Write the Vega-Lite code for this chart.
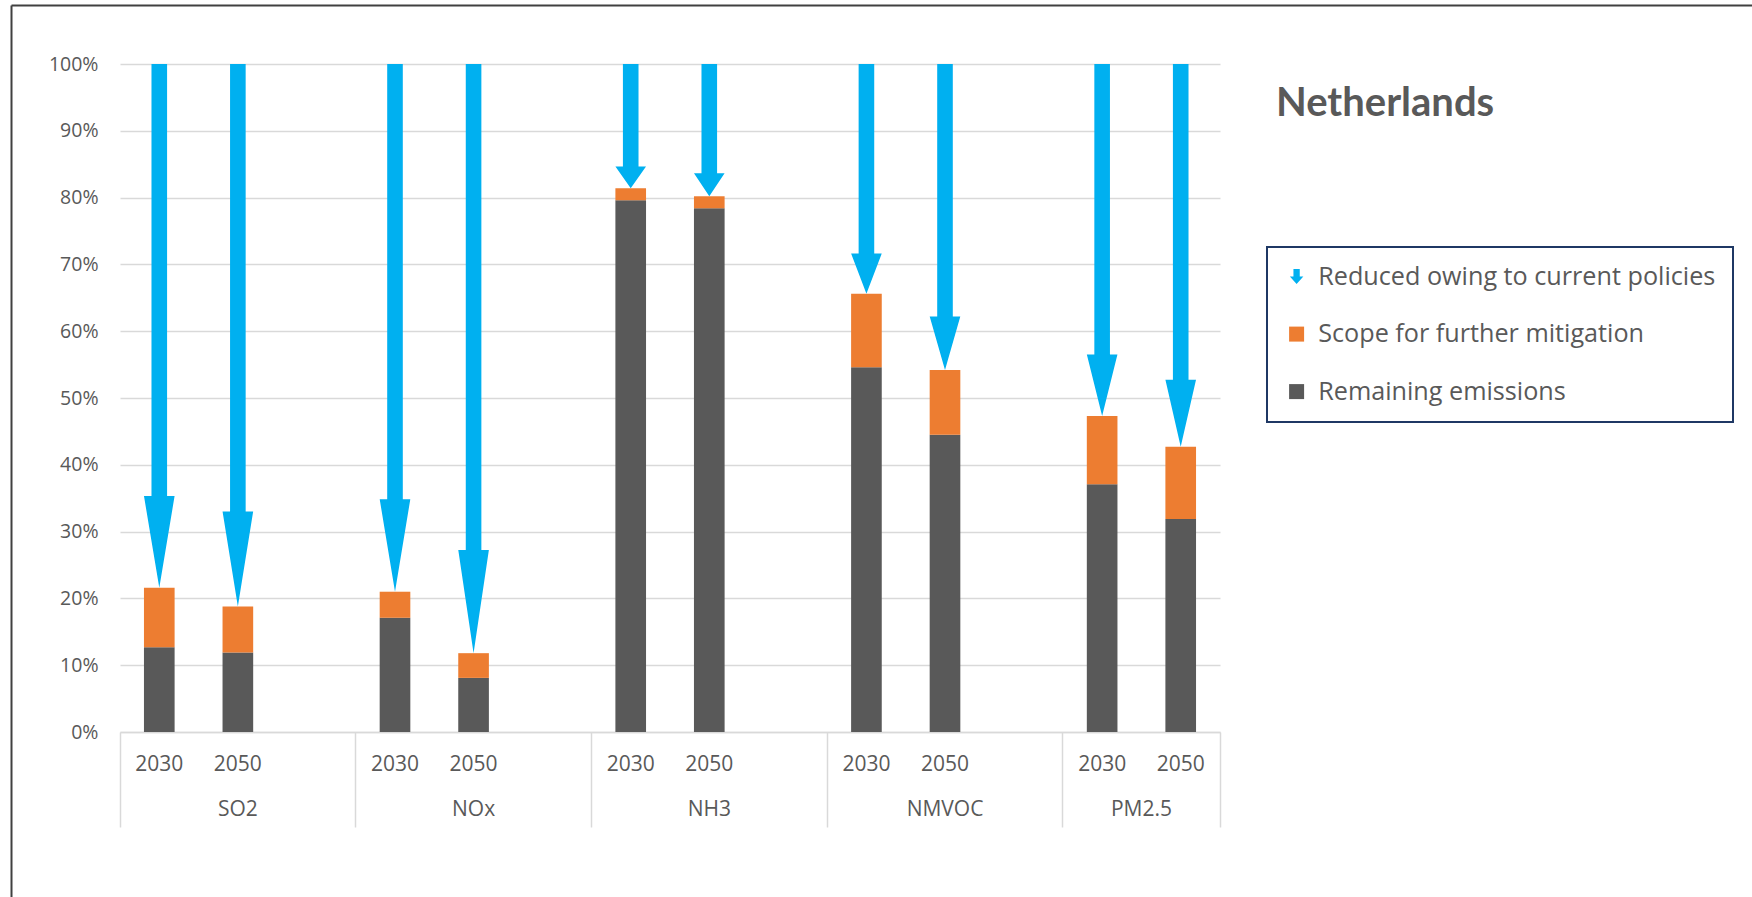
{
  "$schema": "https://vega.github.io/schema/vega-lite/v6.json",
  "width": 1100,
  "height": 668,
  "autosize": {"type": "none"},
  "padding": {"left": 120, "top": 64, "right": 532, "bottom": 165},
  "background": "white",
  "config": {
    "view": {"stroke": null},
    "axis": {"labelFont": "Open Sans", "labelColor": "#595959"}
  },
  "title": {
    "text": "Netherlands",
    "anchor": "start",
    "frame": "group",
    "dx": 1156,
    "dy": 150.5,
    "offset": 0,
    "font": "Lato",
    "fontSize": 40,
    "fontWeight": "bold",
    "color": "#595959",
    "baseline": "alphabetic"
  },
  "data": {
    "values": [
      {"cat": "SO2 2030", "series": "Remaining emissions", "value": 12.7},
      {"cat": "SO2 2030", "series": "Scope for further mitigation", "value": 8.9},
      {"cat": "SO2 2030", "series": "Reduced owing to current policies", "value": 78.4},
      {"cat": "SO2 2050", "series": "Remaining emissions", "value": 11.9},
      {"cat": "SO2 2050", "series": "Scope for further mitigation", "value": 6.9},
      {"cat": "SO2 2050", "series": "Reduced owing to current policies", "value": 81.2},
      {"cat": "NOx 2030", "series": "Remaining emissions", "value": 17.1},
      {"cat": "NOx 2030", "series": "Scope for further mitigation", "value": 3.9},
      {"cat": "NOx 2030", "series": "Reduced owing to current policies", "value": 79.0},
      {"cat": "NOx 2050", "series": "Remaining emissions", "value": 8.1},
      {"cat": "NOx 2050", "series": "Scope for further mitigation", "value": 3.7},
      {"cat": "NOx 2050", "series": "Reduced owing to current policies", "value": 88.2},
      {"cat": "NH3 2030", "series": "Remaining emissions", "value": 79.6},
      {"cat": "NH3 2030", "series": "Scope for further mitigation", "value": 1.8},
      {"cat": "NH3 2030", "series": "Reduced owing to current policies", "value": 18.6},
      {"cat": "NH3 2050", "series": "Remaining emissions", "value": 78.4},
      {"cat": "NH3 2050", "series": "Scope for further mitigation", "value": 1.8},
      {"cat": "NH3 2050", "series": "Reduced owing to current policies", "value": 19.8},
      {"cat": "NMVOC 2030", "series": "Remaining emissions", "value": 54.6},
      {"cat": "NMVOC 2030", "series": "Scope for further mitigation", "value": 11.0},
      {"cat": "NMVOC 2030", "series": "Reduced owing to current policies", "value": 34.4},
      {"cat": "NMVOC 2050", "series": "Remaining emissions", "value": 44.5},
      {"cat": "NMVOC 2050", "series": "Scope for further mitigation", "value": 9.7},
      {"cat": "NMVOC 2050", "series": "Reduced owing to current policies", "value": 45.8},
      {"cat": "PM2.5 2030", "series": "Remaining emissions", "value": 37.1},
      {"cat": "PM2.5 2030", "series": "Scope for further mitigation", "value": 10.2},
      {"cat": "PM2.5 2030", "series": "Reduced owing to current policies", "value": 52.7},
      {"cat": "PM2.5 2050", "series": "Remaining emissions", "value": 31.9},
      {"cat": "PM2.5 2050", "series": "Scope for further mitigation", "value": 10.8},
      {"cat": "PM2.5 2050", "series": "Reduced owing to current policies", "value": 57.3}
    ]
  },
  "layer": [
    {
      "mark": {"type": "point", "opacity": 0, "size": 0},
      "encoding": {
        "x": {
          "field": "value", "type": "quantitative",
          "scale": {"domain": [0, 100], "range": [-109, 1660], "nice": false, "zero": false},
          "axis": {"orient": "top", "offset": 59, "domain": true, "domainColor": "#404040", "domainWidth": 2,
                   "labels": false, "ticks": false, "grid": false, "title": null}
        },
        "y": {
          "field": "value", "type": "quantitative",
          "scale": {"domain": [0, 100], "range": [850, -59], "nice": false, "zero": false},
          "axis": {"orient": "left", "offset": 109, "domain": true, "domainColor": "#404040", "domainWidth": 2,
                   "labels": false, "ticks": false, "grid": false, "title": null}
        }
      }
    },
    {
      "transform": [{"filter": "datum.series === 'Remaining emissions'"}],
      "mark": {"type": "bar", "width": {"band": 0.39}},
      "encoding": {
        "x": {
          "field": "cat", "type": "nominal",
          "scale": {"type": "band", "paddingInner": 0, "paddingOuter": 0,
            "domain": ["SO2 2030", "SO2 2050", "SO2 -", "NOx 2030", "NOx 2050", "NOx -", "NH3 2030", "NH3 2050", "NH3 -", "NMVOC 2030", "NMVOC 2050", "NMVOC -", "PM2.5 2030", "PM2.5 2050"]},
          "axis": {
            "orient": "bottom",
            "values": ["SO2 2030", "SO2 2050", "NOx 2030", "NOx 2050", "NH3 2030", "NH3 2050", "NMVOC 2030", "NMVOC 2050", "PM2.5 2030", "PM2.5 2050"],
            "labelExpr": "split(datum.value, ' ')[1]",
            "title": null, "ticks": false, "domain": true, "domainColor": "#D9D9D9", "domainWidth": 1.5,
            "labelFontSize": 21, "labelPadding": 32, "labelBaseline": "middle", "labelAngle": 0,
            "labelOverlap": false, "grid": false
          }
        },
        "y": {
          "field": "value", "type": "quantitative", "stack": null,
          "scale": {"domain": [0, 100], "nice": false, "zero": true},
          "axis": {
            "orient": "left",
            "values": [0, 10, 20, 30, 40, 50, 60, 70, 80, 90, 100],
            "labelExpr": "datum.value + '%'",
            "title": null, "grid": true, "gridColor": "#D9D9D9", "gridWidth": 1.5,
            "domain": false, "ticks": false, "labelFontSize": 19.5, "labelPadding": 22
          }
        },
        "color": {
          "field": "series", "type": "nominal",
          "scale": {
            "domain": ["Reduced owing to current policies", "Scope for further mitigation", "Remaining emissions"],
            "range": ["#00B0F0", "#ED7D31", "#595959"]
          },
          "legend": {
            "orient": "none", "legendX": 1147, "legendY": 183, "title": null, "direction": "vertical",
            "symbolType": "square", "symbolSize": 225, "symbolStrokeWidth": 0,
            "labelFont": "Open Sans", "labelFontSize": 25.2, "labelColor": "#595959", "labelOffset": 9,
            "labelLimit": 800, "rowPadding": 31.5, "padding": 17,
            "strokeColor": "#1F3864",
            "encode": {
              "legend": {"update": {"strokeWidth": {"value": 2}}},
              "symbols": {
                "update": {
                  "shape": {"signal": "datum.value === 'Reduced owing to current policies' ? 'M-0.42,-1L0.42,-1L0.42,0L0.9,0L0,1L-0.9,0L-0.42,0Z' : 'square'"}
                }
              }
            }
          }
        }
      }
    },
    {
      "transform": [
        {"filter": "datum.series !== 'Reduced owing to current policies'"},
        {"stack": "value", "groupby": ["cat"], "sort": [{"field": "series", "order": "ascending"}], "as": ["v0", "v1"]},
        {"filter": "datum.series === 'Scope for further mitigation'"}
      ],
      "mark": {"type": "bar", "width": {"band": 0.39}, "color": "#ED7D31"},
      "encoding": {
        "x": {
          "field": "cat", "type": "nominal",
          "scale": {"type": "band", "paddingInner": 0, "paddingOuter": 0,
            "domain": ["SO2 2030", "SO2 2050", "SO2 -", "NOx 2030", "NOx 2050", "NOx -", "NH3 2030", "NH3 2050", "NH3 -", "NMVOC 2030", "NMVOC 2050", "NMVOC -", "PM2.5 2030", "PM2.5 2050"]},
          "axis": {
            "orient": "bottom",
            "values": ["PM2.5 2050"], "bandPosition": 1,
            "labelExpr": "'PM2.5'", "labelOffset": -39.3,
            "title": null, "ticks": true, "tickSize": 95, "tickColor": "#D9D9D9", "tickWidth": 1.5,
            "domain": false, "labelFontSize": 21, "labelPadding": -18, "labelBaseline": "middle",
            "labelAngle": 0, "labelOverlap": false, "grid": false
          }
        },
        "y": {"field": "v1", "type": "quantitative", "scale": {"domain": [0, 100], "nice": false, "zero": true}, "axis": null},
        "y2": {"field": "v0"}
      }
    },
    {
      "transform": [
        {"stack": "value", "groupby": ["cat"], "sort": [{"field": "series", "order": "descending"}], "as": ["v0", "v1"]},
        {"filter": "datum.series === 'Reduced owing to current policies'"}
      ],
      "mark": {"type": "point", "filled": true, "size": 4, "color": "#00B0F0", "opacity": 1, "strokeWidth": 0},
      "encoding": {
        "x": {
          "field": "cat", "type": "nominal",
          "scale": {"type": "band", "paddingInner": 0, "paddingOuter": 0,
            "domain": ["SO2 2030", "SO2 2050", "SO2 -", "NOx 2030", "NOx 2050", "NOx -", "NH3 2030", "NH3 2050", "NH3 -", "NMVOC 2030", "NMVOC 2050", "NMVOC -", "PM2.5 2030", "PM2.5 2050"]},
          "axis": {
            "orient": "bottom",
            "values": ["SO2 2030", "NOx 2030", "NH3 2030", "NMVOC 2030", "PM2.5 2030"], "bandPosition": 0,
            "labelExpr": "datum.value === 'PM2.5 2030' ? '' : split(datum.value, ' ')[0]",
            "labelOffset": 78.6,
            "title": null, "ticks": true, "tickSize": 95, "tickColor": "#D9D9D9", "tickWidth": 1.5,
            "domain": false, "labelFontSize": 21, "labelPadding": -18, "labelBaseline": "middle",
            "labelAngle": 0, "labelOverlap": false, "grid": false
          }
        },
        "y": {"field": "v0", "type": "quantitative", "scale": {"domain": [0, 100], "nice": false, "zero": true}, "axis": null},
        "shape": {
          "field": "cat", "type": "nominal", "legend": null,
          "scale": {
            "domain": ["SO2 2030", "SO2 2050", "NOx 2030", "NOx 2050", "NH3 2030", "NH3 2050", "NMVOC 2030", "NMVOC 2050", "PM2.5 2030", "PM2.5 2050"],
            "range": [
              "M0,0L-15.3,-91.6L-7.8,-91.6L-7.8,-523.7L7.8,-523.7L7.8,-91.6L15.3,-91.6Z",
              "M0,0L-15.3,-94.9L-7.8,-94.9L-7.8,-542.4L7.8,-542.4L7.8,-94.9L15.3,-94.9Z",
              "M0,0L-15.3,-92.4L-7.8,-92.4L-7.8,-527.7L7.8,-527.7L7.8,-92.4L15.3,-92.4Z",
              "M0,0L-15.3,-103.1L-7.8,-103.1L-7.8,-589.2L7.8,-589.2L7.8,-103.1L15.3,-103.1Z",
              "M0,0L-15.3,-21.7L-7.8,-21.7L-7.8,-124.2L7.8,-124.2L7.8,-21.7L15.3,-21.7Z",
              "M0,0L-15.3,-23.1L-7.8,-23.1L-7.8,-132.3L7.8,-132.3L7.8,-23.1L15.3,-23.1Z",
              "M0,0L-15.3,-40.2L-7.8,-40.2L-7.8,-229.8L7.8,-229.8L7.8,-40.2L15.3,-40.2Z",
              "M0,0L-15.3,-53.5L-7.8,-53.5L-7.8,-305.9L7.8,-305.9L7.8,-53.5L15.3,-53.5Z",
              "M0,0L-15.3,-61.6L-7.8,-61.6L-7.8,-352.0L7.8,-352.0L7.8,-61.6L15.3,-61.6Z",
              "M0,0L-15.3,-67.0L-7.8,-67.0L-7.8,-382.8L7.8,-382.8L7.8,-67.0L15.3,-67.0Z"
            ]
          }
        }
      }
    }
  ],
  "resolve": {
    "scale": {"x": "independent", "y": "independent"},
    "axis": {"x": "independent", "y": "independent"}
  }
}
